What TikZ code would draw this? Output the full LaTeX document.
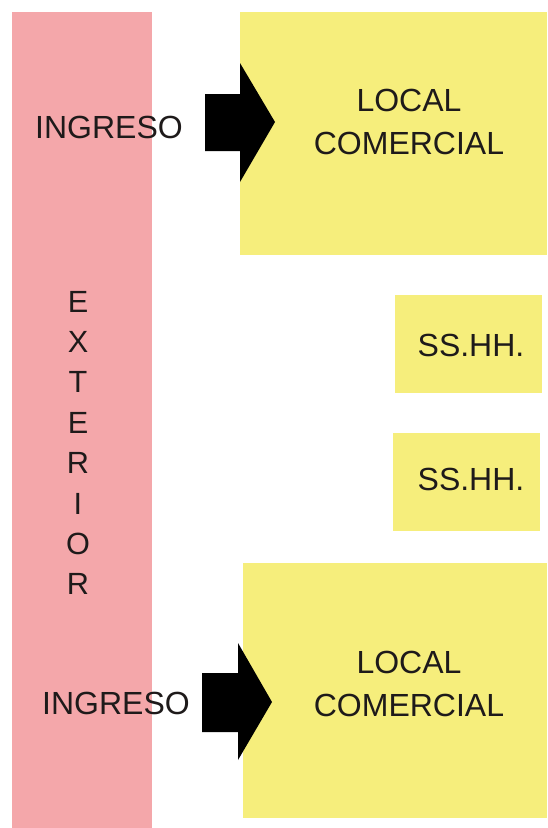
\documentclass[tikz,border=0pt]{standalone}
\usepackage{fontspec}
\setmainfont{Liberation Sans}
\usetikzlibrary{positioning}
\definecolor{exteriorpink}{RGB}{244,167,170}
\definecolor{localyellow}{RGB}{246,238,124}
\definecolor{labelgray}{RGB}{30,26,26}

\begin{document}
\begin{tikzpicture}[x=0.75pt,y=0.75pt,yscale=-1,xscale=1,
  label/.style={text=labelgray,font=\fontsize{24}{32}\selectfont,align=center,inner sep=0pt}]
\useasboundingbox (0,0) rectangle (547,828);

%Shape: Rectangle [exterior strip]
\fill [exteriorpink] (12,12) rectangle (152,828) ;
%Shape: Rectangle [local top]
\fill [localyellow] (240,12) rectangle (547,255) ;
%Shape: Rectangle [ss.hh. top]
\fill [localyellow] (395,295) rectangle (542,393) ;
%Shape: Rectangle [ss.hh. bottom]
\fill [localyellow] (393,433) rectangle (540,531) ;
%Shape: Rectangle [local bottom]
\fill [localyellow] (243,563) rectangle (547,818) ;

%Text Nodes
\node [label, font=\fontsize{23}{30.3}\selectfont] (exterior) at (78,443) {E\\X\\T\\E\\R\\I\\O\\R};
\node [label] (ingresoA) at (109,127) {INGRESO};
\node [label] (ingresoB) at (116,703) {INGRESO};
\node [label] (localA) at (409,122) {LOCAL\\COMERCIAL};
\node [label] (localB) at (409,684) {LOCAL\\COMERCIAL};
\node [label] (sshhA) at (471,345) {SS.HH.};
\node [label] (sshhB) at (471,479) {SS.HH.};

%Block arrows
\fill [black] (205,94) -- (240,94) -- (240,63) -- (275,122) -- (240,182) -- (240,151) -- (205,151) -- cycle ;
\fill [black] (202,673) -- (238,673) -- (238,643) -- (272,702) -- (238,760) -- (238,732) -- (202,732) -- cycle ;
\end{tikzpicture}
\end{document}
